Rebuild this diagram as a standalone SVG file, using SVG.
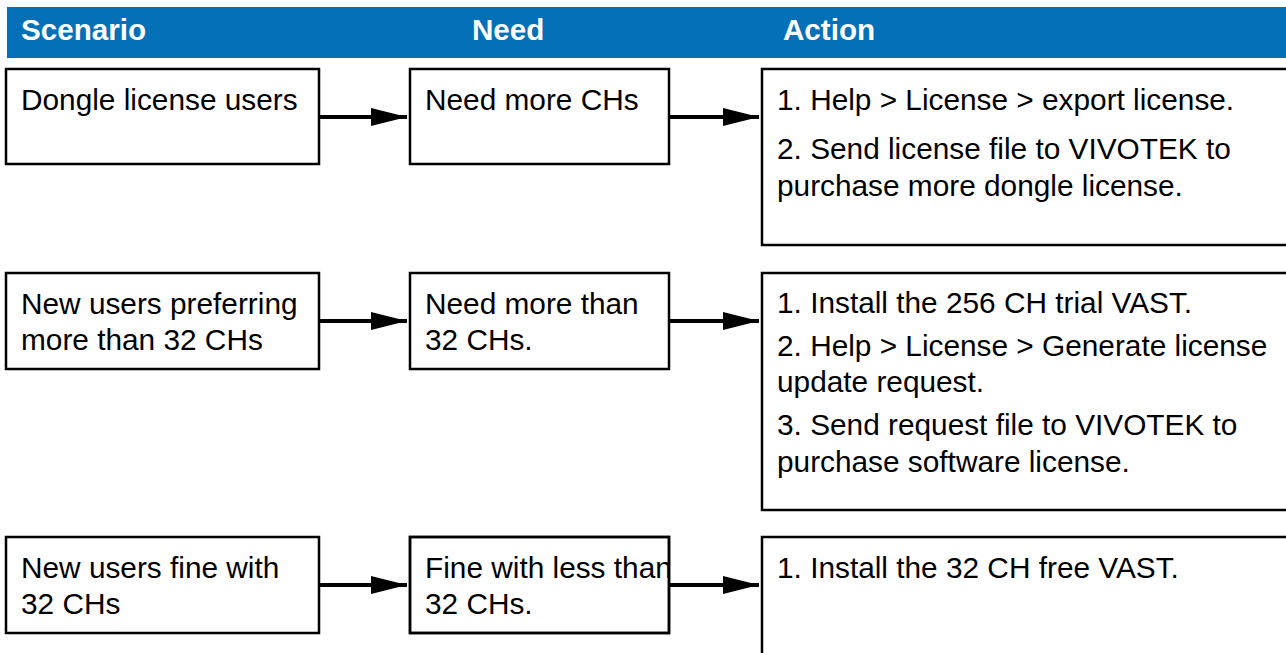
<svg xmlns="http://www.w3.org/2000/svg" width="1286" height="653" viewBox="0 0 1286 653">
<defs>
<style>
.box{fill:#fff;stroke:#000;stroke-width:2.5}
.t{font-family:"Liberation Sans",Arial,sans-serif;font-size:29.8px;fill:#000}
.h{font-family:"Liberation Sans",Arial,sans-serif;font-size:29.6px;font-weight:bold;fill:#fff}
.ln{stroke:#000;stroke-width:4;fill:none}
</style>
<marker id="ah" viewBox="0 0 10 10" refX="10" refY="5" markerWidth="9" markerHeight="4.5" markerUnits="strokeWidth" orient="auto" preserveAspectRatio="none">
<path d="M0,0 L10,5 L0,10 z" fill="#000"/>
</marker>
<clipPath id="clipN3"><rect x="410" y="537" width="259" height="96"/></clipPath>
</defs>
<rect width="1286" height="653" fill="#fff"/>
<g id="header">
<rect x="7" y="7" width="1279" height="51" fill="#0370b7"/>
<text class="h" x="21" y="40">Scenario</text>
<text class="h" x="472" y="40">Need</text>
<text class="h" x="783" y="40">Action</text>
</g>
<g id="connectors">
<line class="ln" x1="320" y1="117" x2="407" y2="117" marker-end="url(#ah)"/>
<line class="ln" x1="670" y1="117" x2="759" y2="117" marker-end="url(#ah)"/>
<line class="ln" x1="320" y1="321" x2="407" y2="321" marker-end="url(#ah)"/>
<line class="ln" x1="670" y1="321" x2="759" y2="321" marker-end="url(#ah)"/>
<line class="ln" x1="320" y1="585" x2="407" y2="585" marker-end="url(#ah)"/>
<line class="ln" x1="670" y1="585" x2="759" y2="585" marker-end="url(#ah)"/>
</g>
<g id="s1"><rect class="box" x="6" y="69" width="313" height="95"/><text class="t" x="21" y="110">Dongle license users</text></g>
<g id="n1"><rect class="box" x="410" y="69" width="259" height="95"/><text class="t" x="425" y="110">Need more CHs</text></g>
<g id="a1"><rect class="box" x="762" y="69" width="530" height="176"/>
<text class="t" x="777" y="110">1. Help &gt; License &gt; export license.</text>
<text class="t" x="777" y="159">2. Send license file to VIVOTEK to</text>
<text class="t" x="777" y="196">purchase more dongle license.</text></g>
<g id="s2"><rect class="box" x="6" y="273" width="313" height="96"/>
<text class="t" x="21" y="314">New users preferring</text>
<text class="t" x="21" y="350">more than 32 CHs</text></g>
<g id="n2"><rect class="box" x="410" y="273" width="259" height="96"/>
<text class="t" x="425" y="314">Need more than</text>
<text class="t" x="425" y="350">32 CHs.</text></g>
<g id="a2"><rect class="box" x="762" y="273" width="530" height="237"/>
<text class="t" x="777" y="313">1. Install the 256 CH trial VAST.</text>
<text class="t" x="777" y="356">2. Help &gt; License &gt; Generate license</text>
<text class="t" x="777" y="392">update request.</text>
<text class="t" x="777" y="435">3. Send request file to VIVOTEK to</text>
<text class="t" x="777" y="472">purchase software license.</text></g>
<g id="s3"><rect class="box" x="6" y="537" width="313" height="96"/>
<text class="t" x="21" y="578">New users fine with</text>
<text class="t" x="21" y="614">32 CHs</text></g>
<g id="n3"><rect class="box" x="410" y="537" width="259" height="96"/>
<g clip-path="url(#clipN3)"><text class="t" x="425" y="578">Fine with less than</text></g>
<text class="t" x="425" y="614">32 CHs.</text>
<rect x="410" y="537" width="259" height="96" fill="none" stroke="#000" stroke-width="2.5"/></g>
<g id="a3"><rect class="box" x="762" y="537" width="530" height="130"/>
<text class="t" x="777" y="578">1. Install the 32 CH free VAST.</text></g>
</svg>
